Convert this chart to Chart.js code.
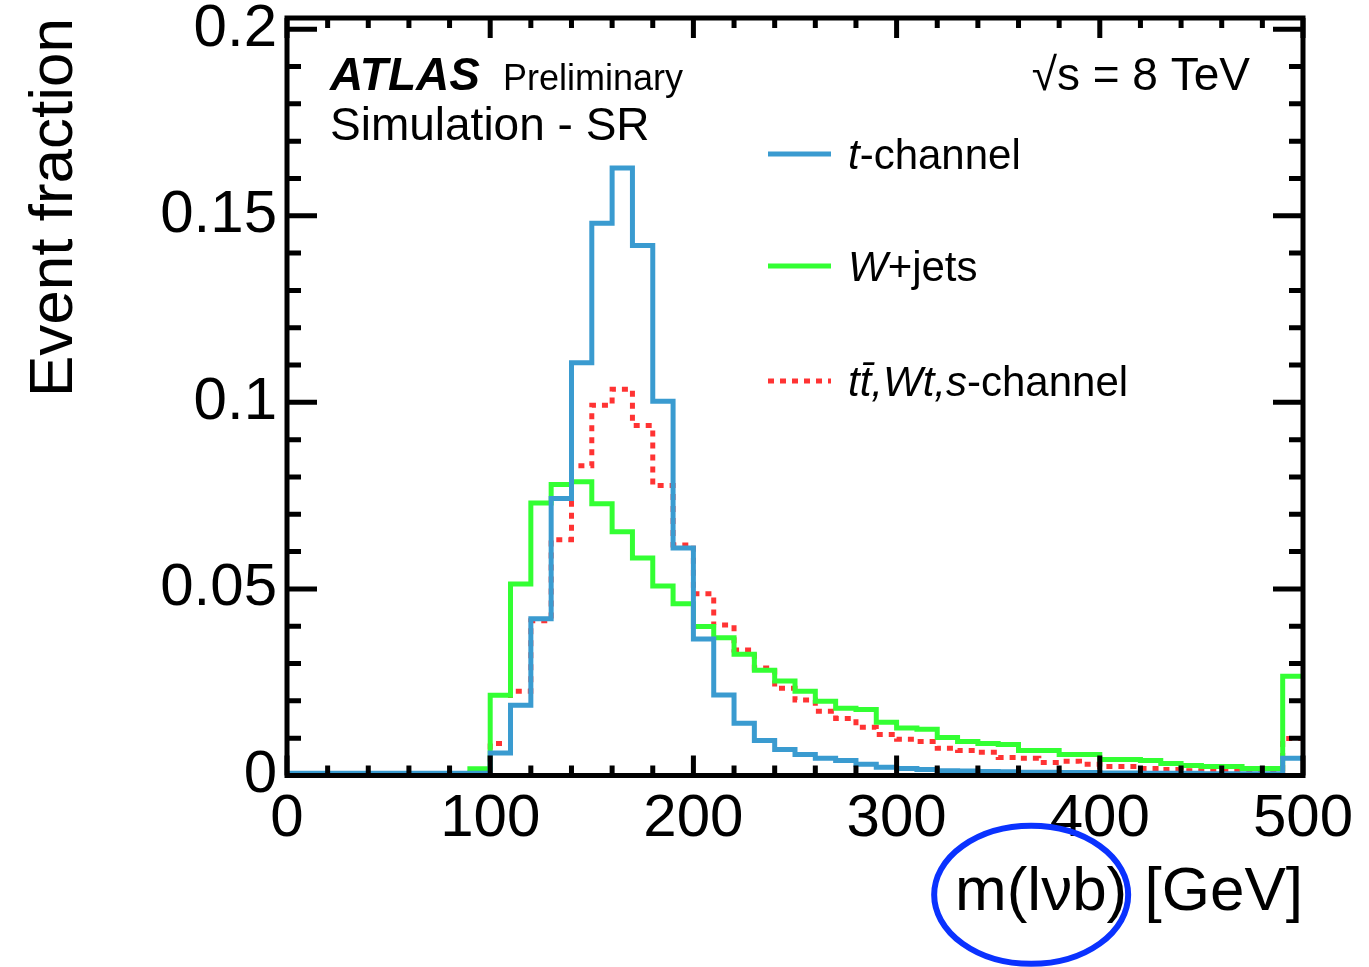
<!DOCTYPE html>
<html>
<head>
<meta charset="utf-8">
<title>m(lνb) event fraction</title>
<script src="https://cdn.jsdelivr.net/npm/chart.js@4.4.1/dist/chart.umd.min.js"></script>
<style>
  html, body { margin: 0; padding: 0; background: #fff; }
  #wrap { width: 1369px; height: 967px; }
</style>
</head>
<body>
<div id="wrap"><canvas id="massChart" width="1369" height="967"></canvas></div>
<script>
// ── Data ──────────────────────────────────────────────────
// 10 GeV bins from 0 to 500, last bin holds the overflow
const binEdges = [
    0,  10,  20,  30,  40,  50,  60,  70,  80,  90,
  100, 110, 120, 130, 140, 150, 160, 170, 180, 190,
  200, 210, 220, 230, 240, 250, 260, 270, 280, 290,
  300, 310, 320, 330, 340, 350, 360, 370, 380, 390,
  400, 410, 420, 430, 440, 450, 460, 470, 480, 490,
];
const xUpper = 500;

const tChannel = [
  0.0006, 0.0006, 0.0006, 0.0006, 0.0006, 0.0006, 0.0006, 0.0006, 0.0006, 0.0006,
  0.0060, 0.0188, 0.0420, 0.0742, 0.1106, 0.1480, 0.1628, 0.1420, 0.1003, 0.0610,
  0.0366, 0.0216, 0.0140, 0.0094, 0.0070, 0.0056, 0.0046, 0.0040, 0.0030, 0.0022,
  0.0019, 0.0016, 0.0013, 0.0012, 0.0011, 0.0010, 0.0009, 0.0009, 0.0008, 0.0008,
  0.0007, 0.0007, 0.0006, 0.0006, 0.0006, 0.0005, 0.0005, 0.0005, 0.0005, 0.0046,
];

const wJets = [
  0.0004, 0.0004, 0.0004, 0.0004, 0.0004, 0.0004, 0.0004, 0.0004, 0.0004, 0.0018,
  0.0215, 0.0513, 0.0730, 0.0780, 0.0787, 0.0728, 0.0653, 0.0583, 0.0508, 0.0460,
  0.0399, 0.0369, 0.0325, 0.0282, 0.0253, 0.0226, 0.0199, 0.0180, 0.0177, 0.0143,
  0.0127, 0.0124, 0.0102, 0.0091, 0.0086, 0.0083, 0.0067, 0.0067, 0.0056, 0.0056,
  0.0043, 0.0043, 0.0040, 0.0032, 0.0027, 0.0024, 0.0024, 0.0019, 0.0019, 0.0266,
];

const topBkg = [
  0.0003, 0.0003, 0.0003, 0.0003, 0.0003, 0.0003, 0.0003, 0.0003, 0.0003, 0.0006,
  0.0086, 0.0226, 0.0415, 0.0632, 0.0830, 0.0992, 0.1035, 0.0938, 0.0777, 0.0618,
  0.0487, 0.0403, 0.0336, 0.0288, 0.0234, 0.0202, 0.0172, 0.0153, 0.0129, 0.0110,
  0.0097, 0.0091, 0.0073, 0.0067, 0.0062, 0.0048, 0.0046, 0.0035, 0.0038, 0.0030,
  0.0024, 0.0024, 0.0019, 0.0016, 0.0013, 0.0013, 0.0013, 0.0013, 0.0013, 0.0099,
];

const xTickValues = [0, 100, 200, 300, 400, 500];
const yTickValues = [0, 0.05, 0.1, 0.15, 0.2];
const yTickLabels = ['0', '0.05', '0.1', '0.15', '0.2'];

// ── Style ─────────────────────────────────────────────────
const FONT = "'Liberation Sans', Arial, Helvetica, sans-serif";
const COL_T   = '#3a9bd0';
const COL_W   = '#33ff33';
const COL_TOP = '#ff3333';

Chart.defaults.font.family = FONT;
Chart.defaults.color = '#000';

// histogram points at lower bin edges, closed at the upper edge
function histPoints(values) {
  const pts = binEdges.map((x, i) => ({ x, y: values[i] }));
  pts.push({ x: xUpper, y: values[values.length - 1] });
  return pts;
}

// ── Frame, inward ticks, labels ───────────────────────────
const atlasDecor = {
  id: 'atlasDecor',
  afterDatasetsDraw(chart) {
    const { ctx, chartArea: a, scales: { x, y } } = chart;
    ctx.save();
    ctx.strokeStyle = '#000';
    ctx.lineWidth = 5;
    ctx.lineCap = 'butt';
    ctx.beginPath();
    for (let v = 0; v <= xUpper; v += 20) {
      const px = x.getPixelForValue(v);
      const len = v % 100 === 0 ? 20 : 10;
      ctx.moveTo(px, a.bottom); ctx.lineTo(px, a.bottom - len);
      ctx.moveTo(px, a.top);    ctx.lineTo(px, a.top + len);
    }
    for (let k = 0; k <= 20; k++) {
      const py = y.getPixelForValue(k / 100);
      const len = k % 5 === 0 ? 30 : 14;
      ctx.moveTo(a.left, py);  ctx.lineTo(a.left + len, py);
      ctx.moveTo(a.right, py); ctx.lineTo(a.right - len, py);
    }
    ctx.stroke();
    ctx.lineJoin = 'miter';
    ctx.strokeRect(a.left, a.top, a.width, a.height);
    ctx.restore();
  },
  afterDraw(chart) {
    const { ctx, scales: { x } } = chart;
    ctx.save();
    ctx.fillStyle = '#000';
    ctx.textBaseline = 'alphabetic';

    const runs = (list, px, py) => {
      list.forEach(([text, font]) => {
        ctx.font = font;
        ctx.fillText(text, px, py);
        px += ctx.measureText(text).width;
      });
      return px;
    };

    // header
    runs([['ATLAS', `italic bold 46px ${FONT}`]], 330, 90);
    runs([['Preliminary', `36px ${FONT}`]], 503, 90);
    runs([['Simulation - SR', `46px ${FONT}`]], 330, 140);

    ctx.font = `46px ${FONT}`;
    const energy = '√s = 8 TeV';
    const eW = ctx.measureText(energy).width;
    ctx.fillText(energy, 1250 - eW, 90);

    // legend
    const legend = [
      { ds: 0, y: 154, text: [['t', `italic 42px ${FONT}`], ['-channel', `42px ${FONT}`]] },
      { ds: 1, y: 266, text: [['W', `italic 42px ${FONT}`], ['+jets', `42px ${FONT}`]] },
      { ds: 2, y: 381, text: [['tt\u0304,Wt,s', `italic 42px ${FONT}`], ['-channel', `42px ${FONT}`]] },
    ];
    legend.forEach(item => {
      const d = chart.data.datasets[item.ds];
      ctx.save();
      ctx.strokeStyle = d.borderColor;
      ctx.lineWidth = d.borderWidth;
      ctx.setLineDash(d.borderDash || []);
      ctx.beginPath();
      ctx.moveTo(768, item.y);
      ctx.lineTo(831, item.y);
      ctx.stroke();
      ctx.restore();
      runs(item.text, 848, item.y + 15);
    });

    // highlight ring round the variable name
    const tOpts = x.options.title;
    ctx.font = `${tOpts.font.size}px ${FONT}`;
    const fullW = ctx.measureText(tOpts.text).width;
    const varW = ctx.measureText('m(lνb)').width;
    const cx = x.right - fullW + varW / 2 - 10;
    const cy = x.bottom - (tOpts.font.size * 1.2 / 2 + tOpts.padding.bottom) + 2;
    ctx.strokeStyle = '#0a32ff';
    ctx.lineWidth = 6;
    ctx.beginPath();
    ctx.ellipse(cx, cy, 97, 69, 0, 0, Math.PI * 2);
    ctx.stroke();
    ctx.restore();
  },
};

// ── Chart ─────────────────────────────────────────────────
const canvas = document.getElementById('massChart');
new Chart(canvas, {
  type: 'line',
  data: {
    datasets: [
      { label: 't-channel', data: histPoints(tChannel), borderColor: COL_T, borderWidth: 5, order: 0 },
      { label: 'W+jets', data: histPoints(wJets), borderColor: COL_W, borderWidth: 5, order: 1 },
      { label: 'tt̄,Wt,s-channel', data: histPoints(topBkg), borderColor: COL_TOP, borderWidth: 5,
        borderDash: [6, 6], order: 2 },
    ],
  },
  options: {
    responsive: false,
    animation: false,
    layout: { padding: { top: 18, right: 66, left: 0, bottom: 0 } },
    elements: {
      point: { radius: 0, hoverRadius: 0 },
      line: { stepped: true, tension: 0, fill: false, borderCapStyle: 'butt', borderJoinStyle: 'miter' },
    },
    plugins: { legend: { display: false }, tooltip: { enabled: false } },
    scales: {
      x: {
        type: 'linear',
        min: 0, max: xUpper,
        afterFit: s => { s.height = 191.5; s.paddingLeft = 0; s.paddingRight = 0; },
        afterBuildTicks: s => { s.ticks = xTickValues.map(value => ({ value })); },
        grid: { display: false, drawTicks: false },
        border: { display: false },
        ticks: { font: { size: 60 }, padding: 8, maxRotation: 0, autoSkip: false },
        title: {
          display: true, text: 'm(lνb) [GeV]', align: 'end',
          font: { size: 62 }, padding: { top: 0, bottom: 37 },
        },
      },
      y: {
        type: 'linear',
        min: 0, max: 0.203,
        afterFit: s => { s.width = 287; s.paddingTop = 0; s.paddingBottom = 0; },
        afterBuildTicks: s => { s.ticks = yTickValues.map(value => ({ value })); },
        grid: { display: false, drawTicks: false },
        border: { display: false },
        ticks: {
          font: { size: 60 }, padding: 10, autoSkip: false,
          callback: (v, i) => yTickLabels[i],
        },
        title: {
          display: true, text: 'Event fraction', align: 'end',
          font: { size: 62 }, padding: { top: 18, bottom: 0 },
        },
      },
    },
  },
  plugins: [atlasDecor],
});
</script>
</body>
</html>
